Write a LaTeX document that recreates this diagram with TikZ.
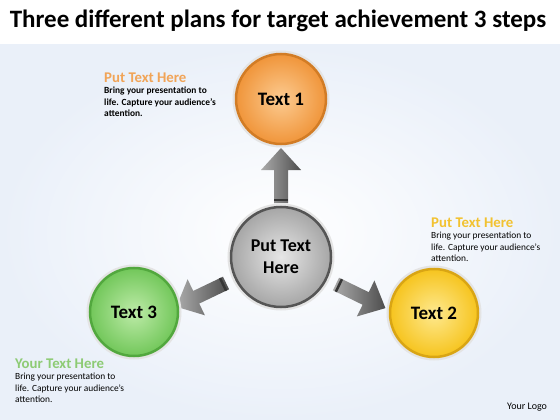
\documentclass[tikz,border=0pt]{standalone}
\usepackage{fontspec}
\setmainfont{Carlito}
\usetikzlibrary{calc}

\definecolor{orangein}{HTML}{FCCB91}
\definecolor{orangeout}{HTML}{F0953A}
\definecolor{orangering}{HTML}{D27C25}
\definecolor{yellowin}{HTML}{FEE98F}
\definecolor{yellowout}{HTML}{F6C41E}
\definecolor{yellowring}{HTML}{D9A514}
\definecolor{greenin}{HTML}{BDEBA8}
\definecolor{greenout}{HTML}{72C75A}
\definecolor{greenring}{HTML}{52A83E}
\definecolor{grayin}{HTML}{E6E6E6}
\definecolor{grayout}{HTML}{A6A6A6}
\definecolor{grayring}{HTML}{555555}
\definecolor{rimgray}{HTML}{E4E4E4}
\definecolor{bgblue}{HTML}{EAF0F9}
\definecolor{arrowlight}{HTML}{ABABAB}
\definecolor{arrowdark}{HTML}{4D4D4D}
\definecolor{headorange}{HTML}{F1A457}
\definecolor{headyellow}{HTML}{F2C230}
\definecolor{headgreen}{HTML}{8DCB74}

\begin{document}
\begin{tikzpicture}[x=1pt, y=-1pt,
  ball/.style n args={3}{circle, inner sep=0pt, minimum size=90pt, inner color=#1, outer color=#2, draw=#3, line width=2.5pt, preaction={draw=rimgray, line width=7pt}, font=\bfseries\fontsize{19}{22}\selectfont, align=center},
  head/.style={anchor=base west, inner sep=0pt, font=\bfseries\fontsize{14.8}{16}\selectfont},
  body/.style={anchor=north west, inner sep=0pt, align=left, font=\fontsize{9.4}{11.5}\selectfont}]
\useasboundingbox (0,0) rectangle (560,420);
\fill[white] (0,0) rectangle (560,420);
\shade[inner color=white, outer color=bgblue] (0,45) rectangle (560,420);

\node[font=\bfseries\fontsize{25}{28}\selectfont, anchor=base, inner sep=0pt] (title) at (278,28) {Three different plans for target achievement 3 steps};

% arrows out of the hub
\coordinate (hubc) at (281,257);
\coordinate (a1) at ($(hubc)+(0,-54)$);
\coordinate (a2) at ($(hubc)+(-55,26)$);
\coordinate (a3) at ($(hubc)+(55,27)$);
\foreach \p/\a in {a1/90, a2/205.6, a3/-26}{
  \begin{scope}[shift={(\p)}, rotate=\a]
    \shade[left color=arrowlight, right color=arrowdark] (0,-7) -- (33,-7) -- (33,-20) -- (55,0) -- (33,20) -- (33,7) -- (0,7) -- cycle;
    \fill[arrowdark!70!black] (2,-7) rectangle (4.5,7);
  \end{scope}
}

% circles
\node[ball={grayin}{grayout}{grayring}, minimum size=100pt, font=\bfseries\fontsize{18}{22}\selectfont] (hub) at (hubc) {Put Text\\Here};
\node[ball={orangein}{orangeout}{orangering}] (t1) at (281,99) {Text 1};
\node[ball={yellowin}{yellowout}{yellowring}, minimum size=88pt] (t2) at (434,313) {Text 2};
\node[ball={greenin}{greenout}{greenring}, minimum size=88pt] (t3) at (134,312) {Text 3};

% side texts
\node[head, text=headorange] (h1) at (104,82) {Put Text Here};
\node[body, font=\bfseries\fontsize{9.4}{11.5}\selectfont] (b1) at (104,87) {Bring your presentation to\\life. Capture your audience’s\\attention.};
\node[head, text=headyellow] (h2) at (431,227) {Put Text Here};
\node[body] (b2) at (431,232) {Bring your presentation to\\life. Capture your audience’s\\attention.};
\node[head, text=headgreen] (h3) at (15,368) {Your Text Here};
\node[body] (b3) at (15,373) {Bring your presentation to\\life. Capture your audience’s\\attention.};

\node[anchor=base west, inner sep=0pt, font=\fontsize{10}{12}\selectfont] (logo) at (507,409) {Your Logo};
\end{tikzpicture}
\end{document}
